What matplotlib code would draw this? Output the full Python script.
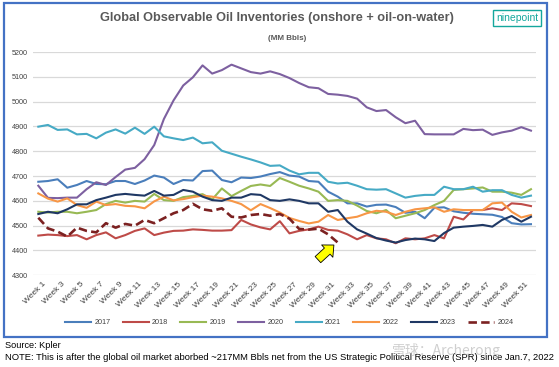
import matplotlib
matplotlib.use("Agg")
import matplotlib.pyplot as plt
import matplotlib.patches as patches
from matplotlib.transforms import ScaledTranslation
import numpy as np

plt.rcParams['font.family'] = ['Liberation Sans', 'DejaVu Sans']

# Weekly inventories, MM Bbls
weeks = list(range(1, 53))
years = ["2017", "2018", "2019", "2020", "2021", "2022", "2023", "2024"]

inv_2017 = [4677, 4680, 4687, 4653, 4664, 4680, 4668, 4667, 4680, 4680, 4668, 4682, 4702, 4694, 4668, 4684, 4682, 4720,
            4722, 4684, 4675, 4694, 4692, 4698, 4708, 4716, 4702, 4698, 4680, 4677, 4637, 4617, 4590, 4590, 4577, 4584,
            4585, 4575, 4552, 4556, 4530, 4572, 4574, 4558, 4552, 4548, 4546, 4544, 4535, 4510, 4505, 4506]
inv_2018 = [4460, 4464, 4462, 4458, 4462, 4445, 4462, 4473, 4449, 4462, 4479, 4489, 4462, 4472, 4479, 4480, 4485, 4483,
            4480, 4480, 4482, 4523, 4505, 4493, 4485, 4518, 4469, 4479, 4485, 4496, 4483, 4480, 4465, 4445, 4462, 4449,
            4445, 4429, 4449, 4445, 4449, 4462, 4449, 4536, 4525, 4563, 4563, 4570, 4563, 4590, 4587, 4579]
inv_2019 = [4556, 4553, 4556, 4556, 4550, 4556, 4563, 4587, 4600, 4593, 4600, 4597, 4628, 4603, 4600, 4615, 4620, 4627,
            4606, 4650, 4619, 4640, 4660, 4666, 4660, 4692, 4677, 4661, 4650, 4637, 4600, 4603, 4600, 4581, 4559, 4550,
            4563, 4530, 4540, 4550, 4563, 4583, 4600, 4644, 4647, 4650, 4654, 4637, 4637, 4633, 4624, 4647]
inv_2020 = [4661, 4612, 4611, 4613, 4613, 4647, 4675, 4664, 4696, 4726, 4733, 4768, 4825, 4930, 5005, 5065, 5098, 5146,
            5113, 5127, 5149, 5134, 5119, 5113, 5122, 5111, 5095, 5075, 5058, 5054, 5031, 5028, 5023, 5012, 4977, 4962,
            4966, 4937, 4913, 4923, 4869, 4868, 4868, 4868, 4890, 4885, 4887, 4866, 4876, 4883, 4897, 4883]
inv_2021 = [4899, 4906, 4886, 4888, 4868, 4870, 4852, 4875, 4888, 4871, 4895, 4870, 4899, 4860, 4852, 4845, 4855, 4832,
            4836, 4802, 4790, 4778, 4767, 4755, 4741, 4743, 4722, 4707, 4713, 4713, 4677, 4670, 4673, 4661, 4647, 4645,
            4647, 4630, 4613, 4620, 4624, 4624, 4657, 4647, 4647, 4657, 4637, 4643, 4643, 4624, 4613, 4621]
inv_2022 = [4630, 4609, 4597, 4610, 4583, 4572, 4597, 4583, 4587, 4580, 4578, 4570, 4598, 4617, 4602, 4607, 4615, 4621,
            4617, 4610, 4600, 4587, 4562, 4587, 4571, 4553, 4531, 4519, 4509, 4516, 4543, 4523, 4530, 4536, 4550, 4560,
            4556, 4543, 4556, 4566, 4570, 4574, 4556, 4566, 4563, 4563, 4563, 4590, 4593, 4556, 4533, 4543]
inv_2023 = [4547, 4556, 4550, 4566, 4586, 4586, 4603, 4613, 4624, 4628, 4624, 4621, 4640, 4621, 4624, 4644, 4637, 4617,
            4603, 4600, 4613, 4613, 4627, 4624, 4603, 4600, 4606, 4600, 4590, 4590, 4556, 4563, 4516, 4485, 4468, 4450,
            4440, 4432, 4442, 4448, 4445, 4438, 4470, 4492, 4496, 4499, 4503, 4496, 4523, 4539, 4516, 4536]
inv_2024 = [4532, 4489, 4476, 4456, 4492, 4479, 4473, 4510, 4492, 4507, 4500, 4523, 4510, 4530, 4550, 4563,
            4588, 4566, 4560, 4570, 4536, 4533, 4543, 4547, 4540, 4547, 4528, 4487, 4484, 4488, 4465, 4432]

series = [inv_2017, inv_2018, inv_2019, inv_2020, inv_2021, inv_2022, inv_2023, inv_2024]
colors = ["#4A7EBB", "#BE4B48", "#98B954", "#7D60A0", "#46AAC5", "#F79646", "#1F3864", "#7B2121"]

fig = plt.figure(figsize=(5.59, 3.67), dpi=100)
ax = fig.add_axes([0.0599, 0.2499, 0.8986, 0.6084])

for name, vals, col in zip(years, series, colors):
    x = weeks[:len(vals)]
    if name == "2024":
        ax.plot(x, vals, color=col, lw=1.9, ls=(0, (3.2, 1.6)), label=name)
    else:
        ax.plot(x, vals, color=col, lw=1.5, label=name)

ax.set_xlim(0.5, 52.5)
ax.set_ylim(4300, 5200)
ax.set_yticks(range(4300, 5201, 100))
ax.grid(axis='y', color='#d9d9d9', lw=0.9)
ax.set_axisbelow(True)
for s in ax.spines.values():
    s.set_visible(False)
ax.tick_params(length=0)
ax.tick_params(axis='y', labelsize=5.2, labelcolor='#404040', pad=4)

odd = weeks[::2]
ax.set_xticks(odd)
ax.set_xticklabels(["Week %d" % w for w in odd], rotation=45, ha='right',
                   rotation_mode='anchor', fontsize=6, color='#404040')
ax.tick_params(axis='x', pad=4)
for lbl in ax.get_xticklabels():
    lbl.set_transform(lbl.get_transform() + ScaledTranslation(4 / 100, 0, fig.dpi_scale_trans))

# yellow arrow pointing at the latest 2024 reading
ax.annotate("", xy=(len(inv_2024) - 0.4, inv_2024[-1] - 10), xytext=(-11.5, -10.5),
            textcoords='offset points',
            arrowprops=dict(arrowstyle='simple,head_length=0.65,head_width=1.2,tail_width=0.6',
                            fc='#FFFF00', ec='black', lw=0.6, shrinkA=0, shrinkB=0, mutation_scale=10))

fig.legend(loc='center left', bbox_to_anchor=(65 / 559, 1 - 322.7 / 367), ncol=8, frameon=False,
           fontsize=5.2, handlelength=3.6, handletextpad=0.45, columnspacing=1.7, borderpad=0,
           borderaxespad=0, labelcolor='#404040')

fig.text(277 / 559, 1 - 18 / 367, "Global Observable Oil Inventories (onshore + oil-on-water)",
         ha='center', va='center', fontsize=9.2, fontweight='bold', color='#595959')
fig.text(287 / 559, 1 - 38 / 367, "(MM Bbls)", ha='center', va='center', fontsize=5.8,
         fontweight='bold', color='#595959')
fig.text(517 / 559, 1 - 18 / 367, "ninepoint", ha='center', va='center', fontsize=7.5,
         color='#14A79D', bbox=dict(boxstyle='square,pad=0.25', fc='white', ec='#14A79D', lw=1))

fig.patches.append(patches.Rectangle((4 / 559, 1 - 337 / 367), 543 / 559, 334 / 367,
                                     transform=fig.transFigure, fill=False, ec='#4472C4', lw=1.6))

fig.text(5 / 559, 1 - 345 / 367, "Source: Kpler", ha='left', va='center', fontsize=6.6, color='black')
fig.text(5 / 559, 1 - 358 / 367,
         "NOTE: This is after the global oil market aborbed ~217MM Bbls net from the US Strategic Political Reserve (SPR) since Jan.7, 2022",
         ha='left', va='center', fontsize=6.75, color='black')
fig.text(392 / 559, 1 - 351 / 367, "雪球：Archerong", ha='left', va='center', fontsize=10,
         color='#b0b0b0', alpha=0.6, family=['Noto Sans CJK SC', 'DejaVu Sans'])

fig.savefig("out.png", dpi=100)
